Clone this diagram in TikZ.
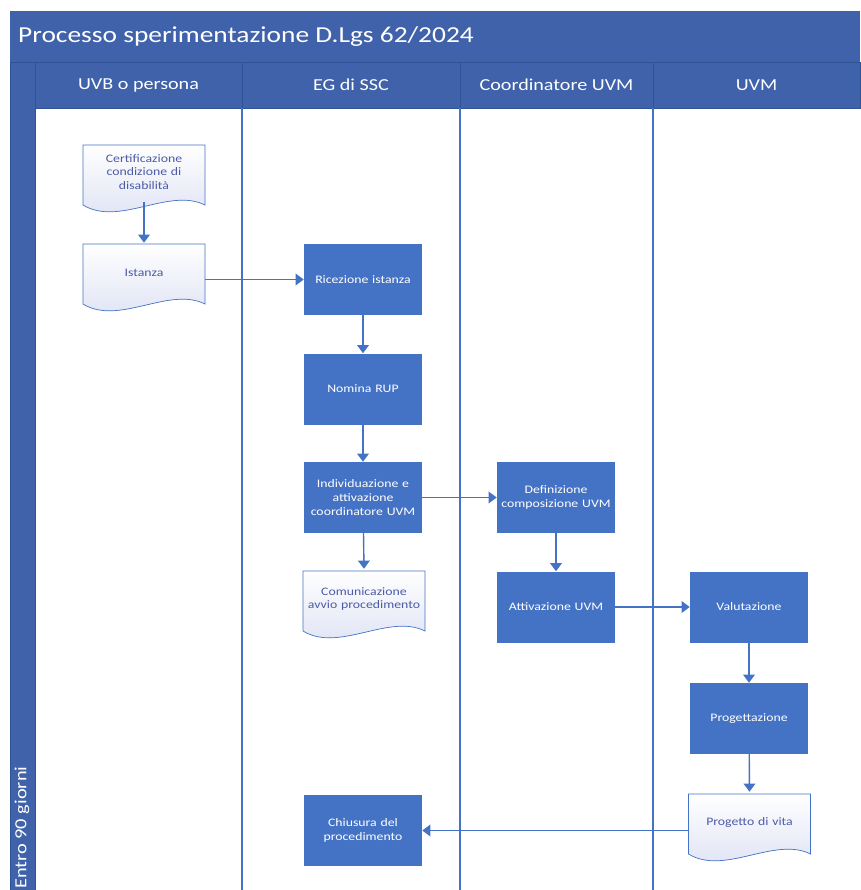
\documentclass[tikz,border=0pt]{standalone}
\usepackage{fontspec}
\setmainfont{Carlito}[FakeStretch=1.2]
\usepackage{tikz}
\usetikzlibrary{positioning, arrows.meta}
\definecolor{lanebar}{HTML}{3F62AB}
\definecolor{laneedge}{HTML}{2F5496}
\definecolor{flow}{HTML}{4472C4}
\definecolor{doctext}{HTML}{4C5BA6}
\definecolor{docfill}{HTML}{DCE0F3}
\tikzset{
>={Triangle[length=7pt, width=10pt]}, % filled tips on every connector
task/.style={fill=flow, text=white, minimum width=3.54cm, minimum height=2.13cm,
  text width=3.3cm, align=center, font=\fontsize{9.8}{11.8}\selectfont, inner sep=2pt},
doc/.style={text=doctext, minimum width=3.66cm, minimum height=1.8cm,
  text width=3.4cm, align=center, font=\fontsize{9.8}{11.8}\selectfont, inner sep=2pt},
docline/.style={draw=flow, line width=0.6pt, top color=white, bottom color=docfill},
headcell/.style={fill=lanebar, draw=laneedge, line width=0.6pt},
headtext/.style={text=white, font=\fontsize{14.3}{17}\selectfont},
laneline/.style={draw=flow, line width=1.4pt},
flowline/.style={->, draw=flow, line width=1.2pt},
}
% paper shape with a wavy lower edge, centred at #1
\newcommand{\docshape}[1]{%
  \begin{scope}[shift={#1}]
    \path[docline] (-61,-30) -- (61,-30) -- (61,30)
      .. controls (25,12) and (-25,52) .. (-61,30) -- cycle;
  \end{scope}}

\begin{document}
\begin{tikzpicture}[x=0.03cm, y=-0.03cm]
    \useasboundingbox (0,0) rectangle (860,890);

    % title and lane headers
    \fill[lanebar] (10,11) rectangle (860,62);
    \node[anchor=west, text=white, font=\fontsize{19.5}{23}\selectfont, inner sep=0pt]
        (title) at (18,37) {Processo sperimentazione D.Lgs 62/2024};
    \path[headcell] (10,62) rectangle (35,890);
    \path[headcell] (35,62) rectangle (242,108);
    \path[headcell] (242,62) rectangle (460,108);
    \path[headcell] (460,62) rectangle (653,108);
    \path[headcell] (653,62) rectangle (860,108);
    \node[headtext] (uvb) at (138.5,85) {UVB o persona};
    \node[headtext] (ssc) at (351,85) {EG di SSC};
    \node[headtext] (coord) at (556.5,85) {Coordinatore UVM};
    \node[headtext] (uvm) at (756.5,85) {UVM};
    \node[headtext, rotate=90, anchor=west, inner sep=0pt, font=\fontsize{14.5}{17}\selectfont]
        (days) at (22,889) {Entro 90 giorni};

    %lanes
    \draw[laneline] (242,108) -- (242,890);
    \draw[laneline] (460,108) -- (460,890);
    \draw[laneline] (653,108) -- (653,890);

    % papers
    \docshape{(144,175)}
    \docshape{(144,274)}
    \docshape{(364,601)}
    \docshape{(749.5,824)}
    \node[doc] (cert) at (144,172) {Certificazione\\condizione di\\disabilità};
    \node[doc] (ist) at (144,273) {Istanza};
    \node[doc] (com) at (364,599) {Comunicazione\\avvio procedimento};
    \node[doc] (vita) at (749.5,822) {Progetto di vita};

    % tasks
    \node[task] (ric) at (363,279.5) {Ricezione istanza};
    \node[task] (rup) at (363,389) {Nomina RUP};
    \node[task] (ind) at (363,497.5) {Individuazione e\\attivazione\\coordinatore UVM};
    \node[task] (def) at (556,497.5) {Definizione\\composizione UVM};
    \node[task] (att) at (556,607) {Attivazione UVM};
    \node[task] (val) at (749,607) {Valutazione};
    \node[task] (prg) at (749,718.5) {Progettazione};
    \node[task] (chi) at (363,830.5) {Chiusura del\\procedimento};

    % connectors
    \draw[flowline] (cert.south) -- (ist.north);
    \draw[flowline] (ist.east |- ric.west) -- (ric.west);
    \draw[flowline] (ric) -- (rup);
    \draw[flowline] (rup) -- (ind);
    \draw[flowline] (ind) -- (com.north);
    \draw[flowline] (ind) -- (def);
    \draw[flowline] (def) -- (att);
    \draw[flowline] (att) -- (val);
    \draw[flowline] (val) -- (prg);
    \draw[flowline] (prg) -- (vita.north);
    \draw[flowline] (vita.west |- chi.east) -- (chi.east);
\end{tikzpicture}
\end{document}
